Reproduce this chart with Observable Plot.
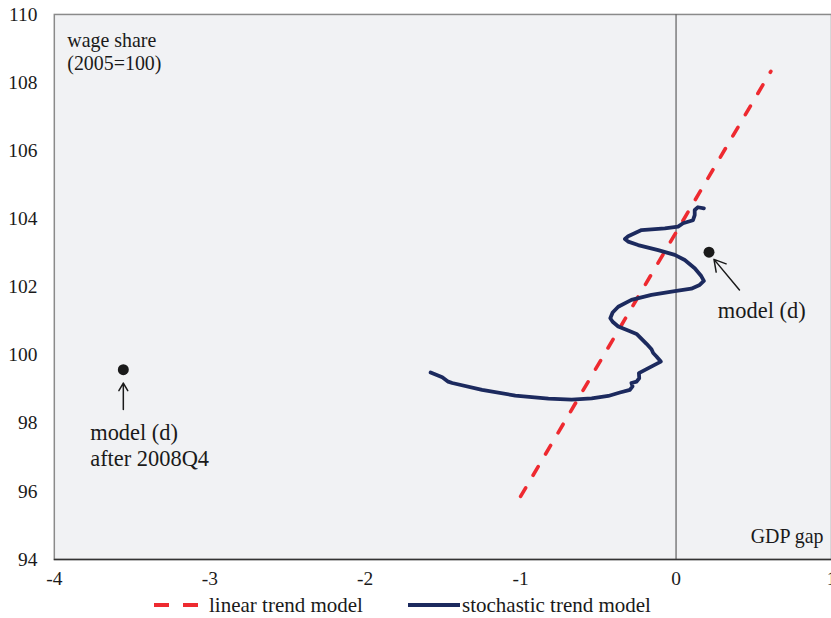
<!DOCTYPE html>
<html>
<head>
<meta charset="utf-8">
<script src="https://cdn.jsdelivr.net/npm/d3@7"></script>
<script src="https://cdn.jsdelivr.net/npm/@observablehq/plot@0.6"></script>
<style>
  html, body { margin: 0; padding: 0; background: #fff; overflow: hidden; width: 831px; height: 618px; }
  #wrap { position: relative; width: 831px; height: 618px; overflow: hidden; }
  #chart { position: absolute; left: 0; top: 0; }
  #legend { position: absolute; left: 0; top: 592px; width: 831px; height: 26px; font-family: "Liberation Serif", serif; font-size: 21px; color: #1a1a1a; }
  #legend span { position: absolute; top: 0; line-height: 26px; white-space: nowrap; }
  #legend svg { position: absolute; top: 0; }
</style>
</head>
<body>
<div id="wrap">
  <div id="chart"></div>
  <div id="legend"></div>
</div>
<script>
// ---- data ----
const xTicks = [-4, -3, -2, -1, 0, 1];
const yTicks = [94, 96, 98, 100, 102, 104, 106, 108, 110];

// linear trend model (dashed red line) endpoints
const linearGap = [-1.0, 0.61];
const linearWage = [95.85, 108.33];

// stochastic trend model (navy curve)
const stochGap = [-1.579, -1.504, -1.466, -1.440, -1.248, -1.034, -0.821, -0.671, -0.543, -0.436,
  -0.361, -0.297, -0.280, -0.287, -0.254, -0.237, -0.239, -0.190, -0.098, -0.126,
  -0.147, -0.158, -0.190, -0.254, -0.308, -0.372, -0.408, -0.423, -0.408, -0.372,
  -0.287, -0.158, -0.008, 0.098, 0.152, 0.179, 0.162, 0.120, 0.056, -0.008,
  -0.115, -0.244, -0.308, -0.329, -0.308, -0.222, -0.072, 0.013, 0.045, 0.109,
  0.120, 0.120, 0.141, 0.179];
const stochWage = [99.49, 99.35, 99.22, 99.18, 98.98, 98.81, 98.72, 98.69, 98.73, 98.80,
  98.90, 98.98, 99.08, 99.18, 99.22, 99.32, 99.47, 99.59, 99.81, 99.96,
  100.06, 100.17, 100.33, 100.62, 100.72, 100.84, 100.98, 101.08, 101.25, 101.42,
  101.62, 101.77, 101.88, 101.95, 102.06, 102.18, 102.32, 102.55, 102.79, 102.94,
  103.08, 103.23, 103.33, 103.41, 103.49, 103.67, 103.72, 103.77, 103.87, 103.96,
  104.11, 104.26, 104.34, 104.31];

// model (d) points
const pointGap = [-3.556, 0.212];
const pointWage = [99.57, 103.02];

// annotation arrows (tail -> head)
const arrowGap1 = [-3.556, 0.408];
const arrowWage1 = [98.40, 101.91];
const arrowGap2 = [-3.556, 0.244];
const arrowWage2 = [99.18, 102.81];

// annotation labels
const labelText = ["model (d)", "after 2008Q4", "model (d)"];
const labelGap = [-3.769, -3.769, 0.269];
const labelWage = [97.71, 96.95, 101.29];

const legendLabels = ["linear trend model", "stochastic trend model"];

// ---- tables ----
const linear = linearGap.map((x, i) => ({x, y: linearWage[i]}));
const stoch = stochGap.map((x, i) => ({x, y: stochWage[i]}));
const points = pointGap.map((x, i) => ({x, y: pointWage[i]}));
const arrows = arrowGap1.map((x1, i) => ({x1, y1: arrowWage1[i], x2: arrowGap2[i], y2: arrowWage2[i]}));
const labels = labelText.map((t, i) => ({t, x: labelGap[i], y: labelWage[i]}));

const RED = "#ee2a30";
const NAVY = "#1c2a5e";
const FONT = "Liberation Serif";

const chart = Plot.plot({
  width: 834,
  height: 592,
  marginLeft: 54,
  marginRight: 0,
  marginTop: 14,
  marginBottom: 31,
  style: {fontFamily: FONT, fontSize: "19px", color: "#1a1a1a", background: "transparent"},
  x: {domain: [-4, 1]},
  y: {domain: [94, 110]},
  marks: [
    Plot.frame({fill: "#f1f2f4", stroke: "#8a8a8a", strokeWidth: 1.5}),
    Plot.ruleX([0], {stroke: "#6a6a6a", strokeWidth: 1.3}),
    Plot.ruleY([94], {stroke: "#333", strokeWidth: 1.5}),
    Plot.axisX({ticks: xTicks, tickSize: 0, tickPadding: 12, tickFormat: d => String(d), label: null, fontSize: 19.5}),
    Plot.axisY({ticks: yTicks, tickSize: 0, tickPadding: 17, tickFormat: d => String(d), label: null, fontSize: 19.5}),
    Plot.line(linear, {x: "x", y: "y", stroke: RED, strokeWidth: 3.6, strokeDasharray: "10,14.7", strokeLinecap: "round"}),
    Plot.line(stoch, {x: "x", y: "y", stroke: NAVY, strokeWidth: 3.8}),
    Plot.dot(points, {x: "x", y: "y", r: 5.5, fill: "#1a1a1a", stroke: "none"}),
    Plot.arrow(arrows, {x1: "x1", y1: "y1", x2: "x2", y2: "y2", stroke: "#1a1a1a", strokeWidth: 1.5, headLength: 13, headAngle: 60}),
    Plot.text(labels, {x: "x", y: "y", text: "t", textAnchor: "start", fontSize: 22.5, fill: "#1a1a1a"}),
    Plot.text(["wage share\n(2005=100)"], {frameAnchor: "top-left", dx: 13, dy: 16, lineAnchor: "top", lineHeight: 1.15, textAnchor: "start", fontSize: 20, fill: "#1a1a1a"}),
    Plot.text(["GDP gap"], {frameAnchor: "bottom-right", dx: -8, dy: -17, textAnchor: "end", fontSize: 20, fill: "#1a1a1a"})
  ]
});
document.getElementById("chart").append(chart);

// ---- legend ----
const legend = d3.select("#legend");
const sw1 = legend.append("svg").attr("width", 50).attr("height", 26).style("left", "152px");
sw1.append("line").attr("x1", 2).attr("x2", 46).attr("y1", 13).attr("y2", 13)
  .attr("stroke", RED).attr("stroke-width", 4).attr("stroke-dasharray", "15,14");
legend.append("span").style("left", "209px").text(legendLabels[0]);
const sw2 = legend.append("svg").attr("width", 56).attr("height", 26).style("left", "406px");
sw2.append("line").attr("x1", 2).attr("x2", 54).attr("y1", 13).attr("y2", 13)
  .attr("stroke", NAVY).attr("stroke-width", 4);
legend.append("span").style("left", "462px").text(legendLabels[1]);
</script>
</body>
</html>
